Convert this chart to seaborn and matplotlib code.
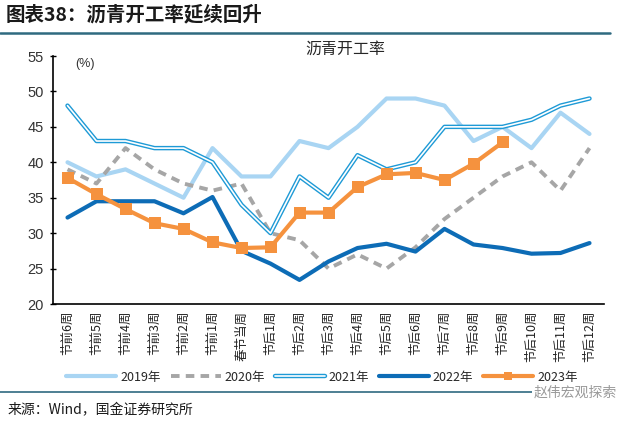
import numpy as np
import pandas as pd
import matplotlib
matplotlib.use("Agg")
import matplotlib.pyplot as plt
from matplotlib.lines import Line2D
from matplotlib.legend_handler import HandlerTuple
import seaborn as sns

weeks = ["节前6周", "节前5周", "节前4周", "节前3周", "节前2周", "节前1周", "春节当周",
         "节后1周", "节后2周", "节后3周", "节后4周", "节后5周", "节后6周", "节后7周",
         "节后8周", "节后9周", "节后10周", "节后11周", "节后12周"]
y2019 = [40, 38, 39, 37, 35, 42, 38, 38, 43, 42, 45, 49, 49, 48, 43, 45, 42, 47, 44]
y2020 = [39, 37, 42, 39, 37, 36, 37, 30, 29, 25, 27, 25, 28, 32, 35, 38, 40, 36, 42]
y2021 = [48, 43, 43, 42, 42, 40, 34, 30, 38, 35, 41, 39, 40, 45, 45, 45, 46, 48, 49]
y2022 = [32.2, 34.5, 34.5, 34.5, 32.8, 35.1, 27.5, 25.7, 23.4, 26.0, 27.9, 28.5,
         27.4, 30.6, 28.4, 27.9, 27.1, 27.2, 28.6]
y2023 = [37.8, 35.5, 33.4, 31.4, 30.6, 28.7, 27.9, 28.0, 32.9, 32.9, 36.5, 38.3,
         38.5, 37.5, 39.8, 42.8, np.nan, np.nan, np.nan]
series_names = ["2019年", "2020年", "2021年", "2022年", "2023年"]

sns.set_theme(style="white")
plt.rcParams['font.family'] = ['Noto Sans CJK SC', 'DejaVu Sans']

df = pd.DataFrame({"week": weeks, "2019": y2019, "2020": y2020, "2021": y2021,
                   "2022": y2022, "2023": y2023})
df["pos"] = np.arange(len(weeks))

fig = plt.figure(figsize=(6.4, 4.23), dpi=100)
ax = fig.add_axes([53/640, 1-304/423, (604-53)/640, (304-56)/423])

c19 = "#A9D5F3"
c20 = "#A6A6A6"
c21 = "#1E9AD6"
c22 = "#0D6CB6"
c23 = "#F5923E"

sns.lineplot(data=df, x="pos", y="2019", ax=ax, color=c19, lw=3.0, sort=False)
sns.lineplot(data=df, x="pos", y="2020", ax=ax, color=c20, lw=2.8, sort=False,
             dashes=False, linestyle=(0, (2.2, 1.6)))
sns.lineplot(data=df, x="pos", y="2021", ax=ax, color=c21, lw=3.2, sort=False)
sns.lineplot(data=df, x="pos", y="2021", ax=ax, color="white", lw=1.2, sort=False)
sns.lineplot(data=df, x="pos", y="2022", ax=ax, color=c22, lw=3.0, sort=False)
sns.lineplot(data=df.dropna(subset=["2023"]), x="pos", y="2023", ax=ax, color=c23,
             lw=3.0, sort=False, marker="s", markersize=8.5, markeredgewidth=0)

ax.set_xlim(-0.5, len(weeks) - 0.5)
ax.set_ylim(20, 55)
ax.set_xlabel("")
ax.set_ylabel("")
ax.set_yticks(np.arange(20, 56, 5))
ax.set_yticklabels([str(v) for v in range(20, 56, 5)], family="Liberation Sans",
                   fontsize=10.5, color="#333333")
ax.set_xticks(np.arange(len(weeks)))
ax.set_xticklabels(weeks, rotation=90, fontsize=9, va="top", ha="center", color="#222222")
ax.set_xticks(np.arange(len(weeks) + 1) - 0.5, minor=True)
ax.tick_params(axis="x", which="major", length=0, pad=5)
ax.tick_params(axis="x", which="minor", direction="out", length=3.5, width=1.2, color="black")
ax.tick_params(axis="y", which="major", direction="inout", length=5, width=1.0, color="black", left=True, pad=4)
for s in ["top", "right"]:
    ax.spines[s].set_visible(False)
for s in ["left", "bottom"]:
    ax.spines[s].set_color("black")
    ax.spines[s].set_linewidth(1.2)
ax.grid(False)

ax.text(0.04, 0.99, "(%)", transform=ax.transAxes, fontsize=9, ha="left", va="top",
        family="Liberation Sans", color="#333333")
fig.text(345/640, 1-49/423, "沥青开工率", fontsize=11.5, ha="center", va="center")

# legend
h19 = Line2D([], [], color=c19, lw=3.0)
h20 = Line2D([], [], color=c20, lw=2.8, linestyle=(0, (2.2, 1.6)))
h21 = (Line2D([], [], color=c21, lw=3.2), Line2D([], [], color="white", lw=1.2))
h22 = Line2D([], [], color=c22, lw=3.0)
h23 = Line2D([], [], color=c23, lw=3.0, marker="s", markersize=6, markeredgewidth=0)
fig.legend([h19, h20, h21, h22, h23], series_names, loc="center",
           bbox_to_anchor=(322/640, 1-377/423), ncol=5, frameon=False, fontsize=9,
           handlelength=4.0, handletextpad=0.3, columnspacing=0.8,
           handler_map={tuple: HandlerTuple(ndivide=1)})

# header and footer
fig.text(6/640, 1-15/423, "图表38：沥青开工率延续回升", fontsize=14, fontweight="bold",
         ha="left", va="center", color="#1a1a1a")
fig.add_artist(Line2D([0, 610/640], [1-33/423, 1-33/423], color="#2F6A80", lw=1.8,
                      transform=fig.transFigure))
fig.add_artist(Line2D([0, 610/640], [1-392/423, 1-392/423], color="#2F6A80", lw=1.2,
                      transform=fig.transFigure))
fig.text(575/640, 1-393/423, "赵伟宏观探索", fontsize=10, ha="center", va="center",
         color="#9a9a9a", bbox=dict(facecolor="white", edgecolor="none", pad=1))
fig.text(8/640, 1-410/423, "来源：Wind，国金证券研究所", fontsize=10, ha="left",
         va="center", color="#1a1a1a")

fig.savefig("out.png", dpi=100, facecolor="white")
